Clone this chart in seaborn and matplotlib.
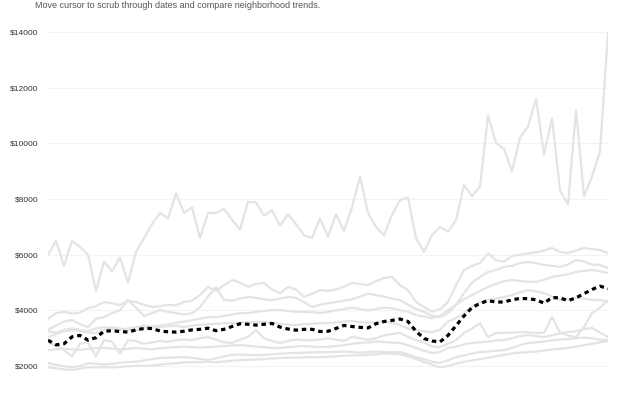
import numpy as np
import pandas as pd
import matplotlib
matplotlib.use("Agg")
import matplotlib.pyplot as plt
import seaborn as sns

# monthly median rent per neighborhood, 71 steps
top_hood = [5990, 6500, 5600, 6500, 6280, 6000, 4700, 5750, 5400, 5900,
            5000, 6100, 6600, 7100, 7500, 7300, 8200, 7500, 7700, 6600,
            7500, 7500, 7650, 7250, 6900, 7900, 7880, 7400, 7600, 7050,
            7450, 7100, 6700, 6600, 7300, 6650, 7450, 6850, 7700, 8800,
            7500, 7000, 6700, 7430, 7960, 8050, 6600, 6100, 6700, 7000,
            6820, 7250, 8500, 8100, 8450, 11000, 10010, 9800, 9000, 10200,
            10600, 11600, 9600, 10900, 8320, 7800, 11200, 8100, 8800, 9700,
            14000]
hood_1 = [3700, 3900, 3950, 3880, 3920, 4080, 4150, 4300, 4250, 4190,
          4350, 4300, 4200, 4120, 4150, 4200, 4180, 4300, 4350, 4550,
          4840, 4700, 4900, 5090, 5000, 4840, 4950, 4980, 4750, 4620,
          4840, 4750, 4480, 4600, 4730, 4700, 4750, 4850, 4980, 4950,
          4910, 5050, 5160, 5200, 4900, 4730, 4300, 4120, 3950, 4050,
          4300, 4900, 5450, 5600, 5700, 6050, 5800, 5750, 5950, 6000,
          6050, 6080, 6150, 6240, 6100, 6060, 6150, 6240, 6200, 6170,
          6050]
hood_2 = [3300, 3450, 3600, 3650, 3500, 3400, 3700, 3760, 3900, 4010,
          4370, 4100, 3800, 3900, 4010, 3950, 3900, 3850, 3900, 4120,
          4500, 4840, 4370, 4350, 4420, 4480, 4450, 4400, 4370, 4420,
          4480, 4450, 4300, 4120, 4200, 4260, 4300, 4350, 4400, 4500,
          4600, 4550, 4500, 4420, 4370, 4200, 4050, 3950, 3800, 3760,
          3900, 4200, 4620, 5000, 5200, 5380, 5450, 5560, 5600, 5700,
          5740, 5700, 5630, 5600, 5560, 5650, 5810, 5750, 5650, 5630,
          5520]
hood_3 = [3040, 3150, 3250, 3290, 3250, 3200, 3190, 3300, 3400, 3350,
          3300, 3290, 3350, 3400, 3450, 3500, 3550, 3600, 3650, 3700,
          3760, 3760, 3800, 3850, 3900, 3900, 3950, 3980, 4010, 4010,
          3980, 3950, 3940, 3940, 3900, 3950, 4000, 4050, 4100, 4050,
          4000, 4050, 4100, 4080, 4010, 3950, 3830, 3780, 3720, 3800,
          4010, 4200, 4400, 4550, 4700, 4840, 4950, 5050, 5090, 5060,
          5030, 5020, 5100, 5200, 5250, 5300, 5380, 5420, 5450, 5400,
          5340]
hood_4 = [3250, 3200, 3300, 3350, 3300, 3250, 3350, 3400, 3350, 3300,
          3350, 3400, 3450, 3420, 3400, 3430, 3450, 3400, 3450, 3480,
          3500, 3520, 3540, 3540, 3560, 3570, 3580, 3580, 3550, 3520,
          3480, 3470, 3500, 3520, 3540, 3540, 3560, 3600, 3620, 3580,
          3550, 3580, 3600, 3550, 3470, 3350, 3290, 3250, 3220, 3300,
          3600, 3720, 3900, 4120, 4300, 4370, 4420, 4480, 4550, 4650,
          4730, 4680, 4620, 4500, 4370, 4400, 4440, 4420, 4380, 4370,
          4300]
hood_5 = [2830, 2750, 2570, 2350, 2800, 2850, 2350, 2930, 2880, 2450,
          2930, 2900, 2800, 2850, 2900, 2870, 2930, 2950, 2930, 3000,
          3040, 2950, 2850, 2830, 2950, 3050, 3290, 3000, 2900, 2830,
          2900, 2950, 2930, 2930, 2950, 3000, 2950, 2900, 3050, 3000,
          2950, 3000, 3100, 3150, 3190, 3050, 2930, 2850, 2700, 2680,
          2800, 2930, 3190, 3350, 3540, 3040, 3190, 3190, 3200, 3220,
          3210, 3190, 3190, 3760, 3200, 3100, 3040, 3400, 3900, 4100,
          4370]
hood_6 = [2570, 2600, 2620, 2600, 2580, 2620, 2650, 2650, 2630, 2600,
          2620, 2650, 2620, 2600, 2640, 2660, 2680, 2700, 2680, 2660,
          2680, 2700, 2720, 2740, 2750, 2730, 2700, 2680, 2650, 2650,
          2680, 2700, 2720, 2700, 2680, 2690, 2720, 2750, 2800, 2830,
          2850, 2880, 2860, 2840, 2830, 2750, 2650, 2550, 2470, 2500,
          2650, 2700, 2780, 2830, 2850, 2880, 2920, 2930, 3000, 3080,
          3110, 3080, 3040, 3100, 3180, 3220, 3250, 3320, 3370, 3200,
          3040]
hood_7 = [2110, 2050, 1990, 1960, 2000, 2100, 2080, 2050, 2080, 2120,
          2140, 2160, 2200, 2250, 2290, 2300, 2310, 2320, 2300, 2250,
          2220, 2280, 2350, 2400, 2410, 2400, 2390, 2400, 2420, 2440,
          2460, 2470, 2480, 2490, 2500, 2500, 2510, 2520, 2500, 2480,
          2500, 2520, 2510, 2500, 2500, 2420, 2320, 2250, 2150, 2110,
          2200, 2320, 2380, 2450, 2500, 2520, 2550, 2570, 2650, 2750,
          2830, 2850, 2880, 2930, 2950, 2970, 3000, 3020, 3000, 2950,
          2930]
hood_8 = [1960, 1920, 1880, 1860, 1900, 1960, 1950, 1960, 1950, 1970,
          1990, 2010, 2000, 2020, 2050, 2080, 2100, 2130, 2140, 2140,
          2150, 2140, 2160, 2190, 2210, 2220, 2230, 2250, 2270, 2290,
          2300, 2300, 2310, 2320, 2320, 2330, 2350, 2370, 2380, 2390,
          2400, 2420, 2450, 2440, 2420, 2350, 2250, 2150, 2050, 1950,
          2000, 2080, 2150, 2200, 2250, 2300, 2350, 2400, 2450, 2480,
          2500, 2520, 2560, 2600, 2620, 2650, 2700, 2750, 2800, 2850,
          2900]
city_avg = [2930, 2760, 2800, 3050, 3100, 2930, 3020, 3250, 3270, 3240,
            3220, 3300, 3350, 3350, 3260, 3230, 3220, 3250, 3300, 3320,
            3360, 3270, 3320, 3420, 3520, 3500, 3470, 3500, 3530, 3400,
            3330, 3290, 3320, 3320, 3240, 3250, 3350, 3460, 3420, 3390,
            3370, 3520, 3600, 3640, 3690, 3600, 3250, 2990, 2900, 2870,
            3100, 3450, 3800, 4100, 4250, 4350, 4300, 4300, 4380, 4430,
            4420, 4380, 4260, 4460, 4450, 4350, 4450, 4600, 4750, 4870,
            4780]

hoods = {"Hood A": top_hood, "Hood B": hood_1, "Hood C": hood_2,
         "Hood D": hood_3, "Hood E": hood_4, "Hood F": hood_5,
         "Hood G": hood_6, "Hood H": hood_7, "Hood I": hood_8}
ticks = [2000, 4000, 6000, 8000, 10000, 12000, 14000]
tick_labels = ["$" + str(t) for t in ticks]

step = np.arange(len(city_avg))
df = pd.concat([pd.DataFrame({"step": step, "rent": v, "hood": k})
                for k, v in hoods.items()], ignore_index=True)
avg = pd.DataFrame({"step": step, "rent": city_avg})

sns.set_style("white")
plt.rcParams["font.family"] = ["Liberation Sans", "DejaVu Sans"]

fig = plt.figure(figsize=(6.4, 4), dpi=100)
ax = fig.add_axes([0.075, 0.064, 0.875, 0.8595])

sns.lineplot(data=df, x="step", y="rent", units="hood", estimator=None,
             color="#e4e4e4", linewidth=1.6, ax=ax)
sns.lineplot(data=avg, x="step", y="rent", color="black", linewidth=2.3,
             linestyle=(0, (1.4, 1.2)), ax=ax)

ax.set_xlim(0, len(city_avg) - 1)
ax.set_ylim(1700, 14050)
ax.set_yticks(ticks)
ax.set_yticklabels(tick_labels, fontsize=6, color="#333333")
ax.set_xticks([])
ax.set_xlabel("")
ax.set_ylabel("")
ax.tick_params(axis="y", length=0, pad=7)
ax.grid(axis="y", color="#f3f3f3", linewidth=0.8)
ax.set_axisbelow(True)
sns.despine(ax=ax, left=True, bottom=True)

fig.text(0.055, 0.997, "Move cursor to scrub through dates and compare neighborhood trends.",
         fontsize=6.5, color="#555555", va="top")

fig.savefig("out.png", dpi=100)
